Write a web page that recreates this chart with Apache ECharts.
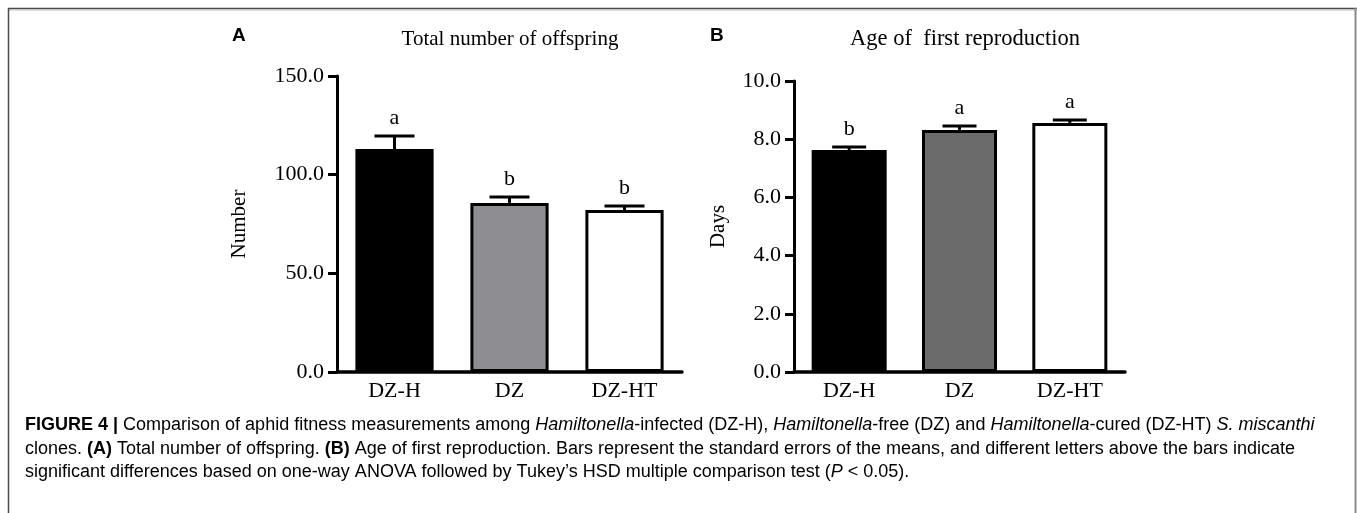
<!DOCTYPE html>
<html>
<head>
<meta charset="utf-8">
<script src="https://cdn.jsdelivr.net/npm/echarts@6/dist/echarts.min.js"></script>
<style>
html,body{margin:0;padding:0;background:#fff;}
#c{width:1357px;height:513px;}
</style>
</head>
<body>
<div id="c"></div>
<script>
const categories = ['DZ-H', 'DZ', 'DZ-HT'];
const offspringMean = [113.0, 85.7, 82.1];
const offspringSE = [6.6, 3.0, 2.0];
const offspringLetters = ['a', 'b', 'b'];
const ageMean = [7.63, 8.32, 8.56];
const ageSE = [0.10, 0.13, 0.10];
const ageLetters = ['b', 'a', 'a'];
const offspringTicks = [0, 50, 100, 150];
const ageTicks = [0, 2, 4, 6, 8, 10];
const barColorsA = ['#000000', '#8e8d92', '#ffffff'];
const barColorsB = ['#000000', '#6b6b6b', '#ffffff'];

const SERIF = '"Liberation Serif", "Times New Roman", serif';
const SANS = '"Liberation Sans", Arial, sans-serif';

const chart = echarts.init(document.getElementById('c'), null, {renderer: 'canvas'});

function yAxisCfg(ticks, gridIndex, name, nameGap) {
  return {
    type: 'value', gridIndex: gridIndex,
    min: ticks[0], max: ticks[ticks.length - 1], interval: ticks[1] - ticks[0],
    name: name, nameLocation: 'middle', nameGap: nameGap, nameRotate: 90,
    nameTextStyle: {fontFamily: SERIF, fontSize: 21, color: '#000'},
    axisLine: {show: true, lineStyle: {color: '#000', width: 3}},
    axisTick: {show: true, length: 9, lineStyle: {color: '#000', width: 3}},
    axisLabel: {fontFamily: SERIF, fontSize: 22, color: '#000', margin: 13,
      formatter: v => v.toFixed(1)},
    splitLine: {show: false}
  };
}
function xAxisCfg(gridIndex) {
  return {
    type: 'category', gridIndex: gridIndex, data: categories,
    axisLine: {show: true, lineStyle: {color: '#000', width: 3.5}},
    axisTick: {show: true, inside: true, alignWithLabel: true, length: 6,
      lineStyle: {color: '#000', width: 3}},
    axisLabel: {fontFamily: SERIF, fontSize: 22, color: '#000', margin: 8}
  };
}
function barSeries(idx, means, colors) {
  return {
    type: 'bar', xAxisIndex: idx, yAxisIndex: idx, barWidth: '68%',
    data: means.map((v, i) => ({value: v, itemStyle: {color: colors[i]}})),
    itemStyle: {borderColor: '#000', borderWidth: 3},
    silent: true, z: 2
  };
}
function errSeries(idx, means, ses, letters, capW) {
  return {
    type: 'custom', xAxisIndex: idx, yAxisIndex: idx, z: 5, silent: true,
    data: means.map((m, i) => [i, m, ses[i]]),
    renderItem: function (params, api) {
      const x = api.value(0), m = api.value(1), se = api.value(2);
      const base = api.coord([x, m]);
      const top = api.coord([x, m + se]);
      return {
        type: 'group',
        children: [
          {type: 'line', shape: {x1: base[0], y1: base[1], x2: top[0], y2: top[1]},
            style: {stroke: '#000', lineWidth: 3}},
          {type: 'line', shape: {x1: top[0] - capW / 2, y1: top[1], x2: top[0] + capW / 2, y2: top[1]},
            style: {stroke: '#000', lineWidth: 3}},
          {type: 'text', x: top[0], y: top[1] - 7,
            style: {text: letters[params.dataIndex], fontFamily: SERIF, fontSize: 22,
              fill: '#000', align: 'center', verticalAlign: 'bottom'}}
        ]
      };
    }
  };
}

const CAP_FS = 18;
const capRich = {
  b: {fontFamily: SANS, fontWeight: 'bold', fontSize: CAP_FS, color: '#1a1a1a'},
  i: {fontFamily: SANS, fontStyle: 'italic', fontSize: CAP_FS, color: '#333'},
  n: {fontFamily: SANS, fontSize: CAP_FS, color: '#333'}
};
const captionLines = [
  '{b|FIGURE 4 |}{n| Comparison of aphid fitness measurements among }{i|Hamiltonella}{n|-infected (DZ-H), }{i|Hamiltonella}{n|-free (DZ) and }{i|Hamiltonella}{n|-cured (DZ-HT) }{i|S. miscanthi}',
  '{n|clones. }{b|(A)}{n| Total number of offspring. }{b|(B)}{n| Age of first reproduction. Bars represent the standard errors of the means, and different letters above the bars indicate}',
  '{n|significant differences based on one-way ANOVA followed by Tukey\u2019s HSD multiple comparison test (}{i|P}{n| < 0.05).}'
];
const captionY = [425, 449, 472];

const graphics = [
  {type: 'line', shape: {x1: 8, y1: 8.5, x2: 1357, y2: 8.5}, style: {stroke: '#4a4a4a', lineWidth: 1.5}},
  {type: 'line', shape: {x1: 8, y1: 10, x2: 1357, y2: 10}, style: {stroke: '#bbbbbb', lineWidth: 1}},
  {type: 'line', shape: {x1: 8.5, y1: 8, x2: 8.5, y2: 513}, style: {stroke: '#4a4a4a', lineWidth: 1.5}},
  {type: 'line', shape: {x1: 1355.5, y1: 8, x2: 1355.5, y2: 513}, style: {stroke: '#8a8a8a', lineWidth: 2}},
  {type: 'text', left: 232, top: 26, style: {text: 'A', fontFamily: SANS, fontWeight: 'bold', fontSize: 19, fill: '#000'}},
  {type: 'text', left: 710, top: 26, style: {text: 'B', fontFamily: SANS, fontWeight: 'bold', fontSize: 19, fill: '#000'}}
];
captionLines.forEach((t, k) => {
  graphics.push({type: 'text', x: 25, y: captionY[k],
    style: {text: t, rich: capRich, verticalAlign: 'middle', align: 'left', fontFamily: SANS, fontSize: CAP_FS}});
});

chart.setOption({
  animation: false,
  backgroundColor: '#ffffff',
  title: [
    {text: 'Total number of offspring', left: 505, top: 24, textAlign: 'center',
      textStyle: {fontFamily: SERIF, fontSize: 21, fontWeight: 'normal', color: '#000'}},
    {text: 'Age of  first reproduction', left: 960, top: 23, textAlign: 'center',
      textStyle: {fontFamily: SERIF, fontSize: 22.5, fontWeight: 'normal', color: '#000'}}
  ],
  grid: [
    {left: 337, top: 76, width: 345, height: 296, containLabel: false},
    {left: 794, top: 81, width: 331, height: 291, containLabel: false}
  ],
  xAxis: [xAxisCfg(0), xAxisCfg(1)],
  yAxis: [yAxisCfg(offspringTicks, 0, 'Number', 87), yAxisCfg(ageTicks, 1, 'Days', 65)],
  series: [
    barSeries(0, offspringMean, barColorsA),
    errSeries(0, offspringMean, offspringSE, offspringLetters, 40),
    barSeries(1, ageMean, barColorsB),
    errSeries(1, ageMean, ageSE, ageLetters, 34)
  ],
  graphic: graphics
});
</script>
</body>
</html>
